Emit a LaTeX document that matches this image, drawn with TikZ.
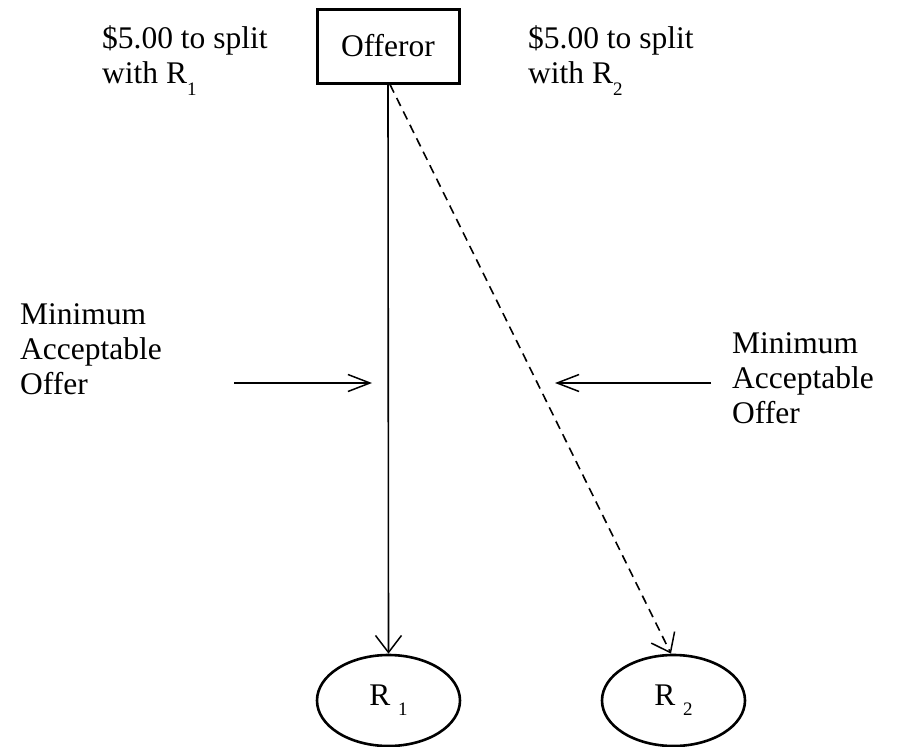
\documentclass[tikz,border=0pt]{standalone}
\usepackage{fontspec}
\setmainfont{Liberation Serif}
\usetikzlibrary{arrows.meta,shapes.geometric}
\newcommand\subdn[2]{\raisebox{-#1}{\fontsize{19}{19}\selectfont #2}}
\begin{document}
\begin{tikzpicture}[x=1pt,y=-1pt,
  every node/.style={font=\fontsize{31.5}{35}\selectfont},
  lbl/.style={inner sep=0pt,align=left,anchor=base west},
  hhead/.style={-{Straight Barb[length=22pt,width=17pt,line width=1.5pt]}},
  vhead/.style={-{Straight Barb[length=17pt,width=26pt,line width=1.5pt]}},
  conn/.style={line width=1.6pt}]
\useasboundingbox (0,0) rectangle (911,747);
\node[draw,line width=3pt,minimum width=142pt,minimum height=74pt,inner sep=0pt] (offeror) at (388,46) {Offeror};
\node[draw,ellipse,line width=2.6pt,minimum width=143pt,minimum height=91pt,inner sep=0pt] (r1) at (388.5,700.5) {R \subdn{10pt}{1}};
\node[draw,ellipse,line width=2.6pt,minimum width=143pt,minimum height=91pt,inner sep=0pt] (r2) at (673.5,700.5) {R \subdn{10pt}{2}};
\node[lbl] (t1) at (102,83) {\$5.00 to split\\with R\subdn{12pt}{1}};
\node[lbl] (t2) at (528,83) {\$5.00 to split\\with R\subdn{12pt}{2}};
\node[lbl] (m1) at (20,394) {Minimum\\Acceptable\\Offer};
\node[lbl] (m2) at (732,423) {Minimum\\Acceptable\\Offer};
\coordinate (a1s) at (234,383);
\coordinate (a1e) at (372,383);
\coordinate (a2s) at (711,383);
\coordinate (a2e) at (555,383);
\draw[conn,vhead] (offeror.south) -- (r1.north);
\draw[conn,vhead,dash pattern=on 9pt off 6pt] ([xshift=2pt]offeror.south) -- ([xshift=-2.5pt]r2.north);
\draw[conn,hhead] (a1s) -- (a1e);
\draw[conn,hhead] (a2s) -- (a2e);
\end{tikzpicture}
\end{document}
